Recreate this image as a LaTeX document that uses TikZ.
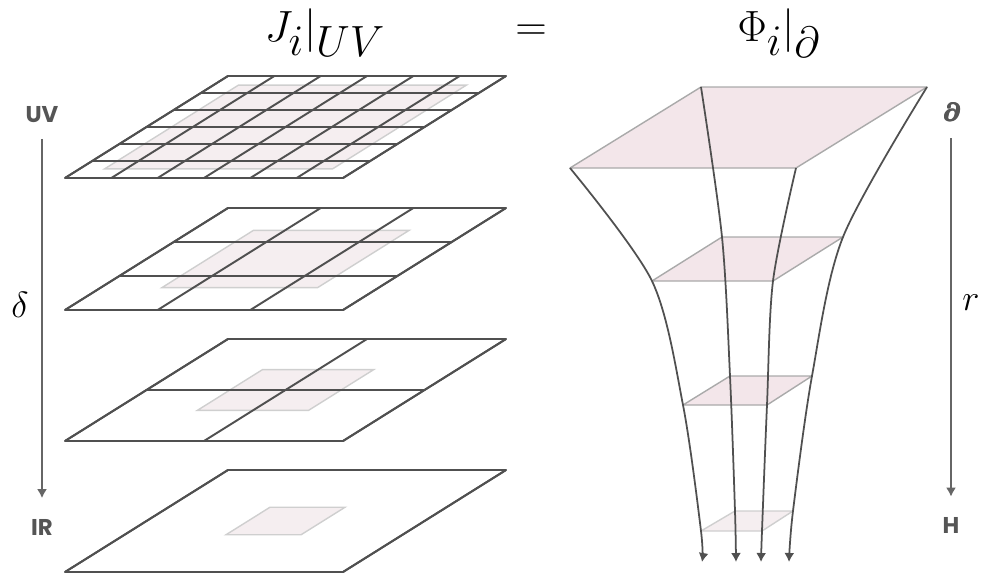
\documentclass[tikz,border=0pt]{standalone}
\usepackage{amsmath}
\usepackage{amssymb}
\usepackage{fontspec}
\newfontfamily\tagfont{Poppins}
\newcommand\boldpartial{{\usefont{OML}{cmm}{b}{it}\char"40}}
\newcommand\heavypartial{\makebox[0pt][l]{\boldpartial}\makebox[0pt][l]{\kern.6pt\boldpartial}\makebox[0pt][l]{\raisebox{.4pt}{\boldpartial}}\kern.6pt\raisebox{.4pt}{\boldpartial}}
\DeclareMathSizes{28}{28}{24}{19}
\usepackage{tikz}
\usetikzlibrary{arrows.meta}

\definecolor{gridgray}{HTML}{505050}
\definecolor{axisgray}{HTML}{666666}
\definecolor{taggray}{HTML}{555555}
\definecolor{shadefill}{HTML}{F5EEF0}
\definecolor{shadeedge}{HTML}{CFCFCF}
\definecolor{slicefill}{HTML}{F3E6EA}
\definecolor{sliceedge}{HTML}{AAAAAA}

\tikzset{
  gridline/.style={draw=gridgray, line width=1.1pt, line join=round},
  leftshade/.style={fill=shadefill, draw=shadeedge, line width=.8pt},
  slicetop/.style={fill=slicefill, draw=sliceedge, line width=.8pt, line join=round},
  slicelow/.style={fill=shadefill, draw=shadeedge, line width=.8pt, line join=round},
  funnel/.style={draw=gridgray, line width=1pt},
  axisline/.style={draw=axisgray, line width=.9pt},
  tag/.style={font=\tagfont\bfseries\fontsize{13}{15}\selectfont, text=taggray, inner sep=0pt},
  title/.style={font=\fontsize{28}{33}\selectfont, inner sep=1pt}
}

\begin{document}
\begin{tikzpicture}[x=.2mm, y=-.2mm, >={Latex[length=1.8mm,width=2mm]}, line width=1pt]
    \useasboundingbox (0,0) rectangle (982,576);
    \node[title] (jleft) at (325,33) {$J_i|_{UV}$};
    \node[title] (eq) at (531,33) {$=$};
    \node[title] (phiright) at (779,33) {$\Phi_i|_\partial$};
    \node[tag] (uv) at (42,115) {UV};
    \node[tag] (ir) at (42,527) {IR};
    \node[font=\fontsize{20}{24}\selectfont] (delta) at (20,305) {$\delta$};
    \draw[axisline,->,shorten <=3mm,shorten >=4mm] (uv) -- (ir);
    \node[font=\fontsize{15}{18}\selectfont, text=taggray, inner sep=0pt] (bdy) at (951,112) {\heavypartial};
    \node[tag] (hor) at (951,525) {H};
    \node[font=\fontsize{21}{24}\selectfont] (rr) at (971,303) {$r$};
    \draw[axisline,->,shorten <=3.2mm,shorten >=3.9mm] (bdy) -- (hor);
    \foreach \yb/\n/\s in {178/6/.09,310/3/.22,441/2/.3,572/1/.365}{
      \begin{scope}[shift={(65,\yb)}, x={(5.56cm,0cm)}, y={(3.26cm,2.04cm)}]
        \filldraw[leftshade] (\s,\s) -- ({1-\s},\s) -- ({1-\s},{1-\s}) -- (\s,{1-\s}) -- cycle;
        \foreach \k in {0,...,\n}
          \draw[gridline] ({\k/\n},0) -- ({\k/\n},1) (0,{\k/\n}) -- (1,{\k/\n});
        \draw[gridline] (0,0) -- (1,0) -- (1,1) -- (0,1) -- cycle;
      \end{scope}
    }
    \coordinate (a0) at (570,168); \coordinate (b0) at (701,87);
    \coordinate (c0) at (927,87);  \coordinate (d0) at (796,168);
    \coordinate (a1) at (652,281); \coordinate (b1) at (722,237);
    \coordinate (c1) at (843,237); \coordinate (d1) at (773,281);
    \coordinate (a2) at (683,405); \coordinate (b2) at (730,376);
    \coordinate (c2) at (812,376); \coordinate (d2) at (767,405);
    \coordinate (a3) at (701,531); \coordinate (b3) at (735,511);
    \coordinate (c3) at (793,511); \coordinate (d3) at (762,531);
    \coordinate (a4) at (702,562); \coordinate (b4) at (736,562);
    \coordinate (c4) at (789,562); \coordinate (d4) at (761,562);
    \foreach \l/\sty in {0/slicetop,1/slicetop,2/slicetop,3/slicelow}
      \filldraw[\sty] (a\l) -- (b\l) -- (c\l) -- (d\l) -- cycle;
    \foreach \w in {a,b,c,d}
      \draw[funnel,->] plot[smooth] coordinates {(\w0) (\w1) (\w2) (\w3) (\w4)};
  \end{tikzpicture}
\end{document}
